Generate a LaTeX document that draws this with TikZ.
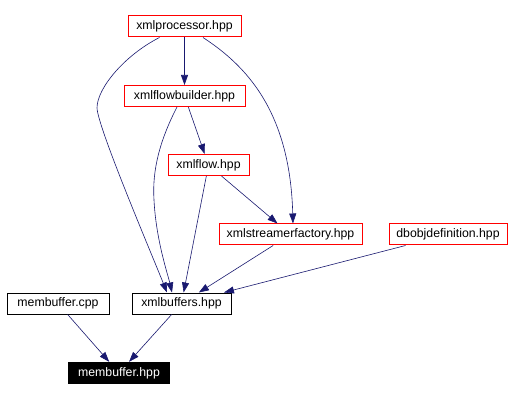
\documentclass[tikz,border=0pt]{standalone}
\usepackage{fontspec}
\setmainfont{Liberation Sans}
\usetikzlibrary{arrows.meta}
\definecolor{edgeblue}{RGB}{25,25,112}
\tikzset{
  hdr/.style={draw=red, line width=1pt, inner sep=0pt, minimum height=21pt},
  src/.style={draw=black, line width=1pt, inner sep=0pt, minimum height=21pt},
  cur/.style={fill=black, text=white, inner sep=0pt, minimum height=22pt},
  edge/.style={draw=edgeblue, line width=0.6pt, -{Triangle[length=10pt,width=7pt]}}
}
\begin{document}
\begin{tikzpicture}[x=1pt, y=-1pt, font=\fontsize{12.3}{14}\selectfont]
            \useasboundingbox (0,0) rectangle (512,401);
            \fill[white] (0,0) rectangle (512,401);
            % files
            \foreach \n/\x/\y/\w/\s/\t in {proc/184.5/26.5/113/hdr/xmlprocessor.hpp,
                    fbuild/184.5/96/121/hdr/xmlflowbuilder.hpp,
                    flow/208.5/165/81/hdr/xmlflow.hpp,
                    sfact/290.5/234.5/143/hdr/xmlstreamerfactory.hpp,
                    dbobj/448/234.5/118/hdr/dbobjdefinition.hpp,
                    mcpp/58/303.5/102/src/membuffer.cpp,
                    xbuf/181.5/303.5/99/src/xmlbuffers.hpp,
                    mhpp/119/373/102/cur/membuffer.hpp}{
                    \node[\s, minimum width=\w pt] (\n) at (\x,\y) {\t};
                }
            % straight includes
            \foreach \a/\b in {proc/fbuild, fbuild/flow, flow/sfact, flow/xbuf, sfact/xbuf, dbobj/xbuf, mcpp/mhpp, xbuf/mhpp}
            \draw[edge] (\a) -- (\b);
            % bent includes
            \draw[edge] ([xshift=-25pt]proc.south) .. controls (125,55) and (97,88) .. (97,108)
                    .. controls (98,128) and (150,250) .. ([xshift=-14.5pt]xbuf.north);
            \draw[edge] ([xshift=-7.5pt]fbuild.south) .. controls (160,140) and (152,170) .. (154,200)
                    .. controls (156,240) and (168,275) .. ([xshift=-9.5pt]xbuf.north);
            \draw[edge] ([xshift=18.5pt]proc.south) .. controls (245,65) and (290,110) .. ([xshift=2.5pt]sfact.north);
        \end{tikzpicture}
\end{document}
